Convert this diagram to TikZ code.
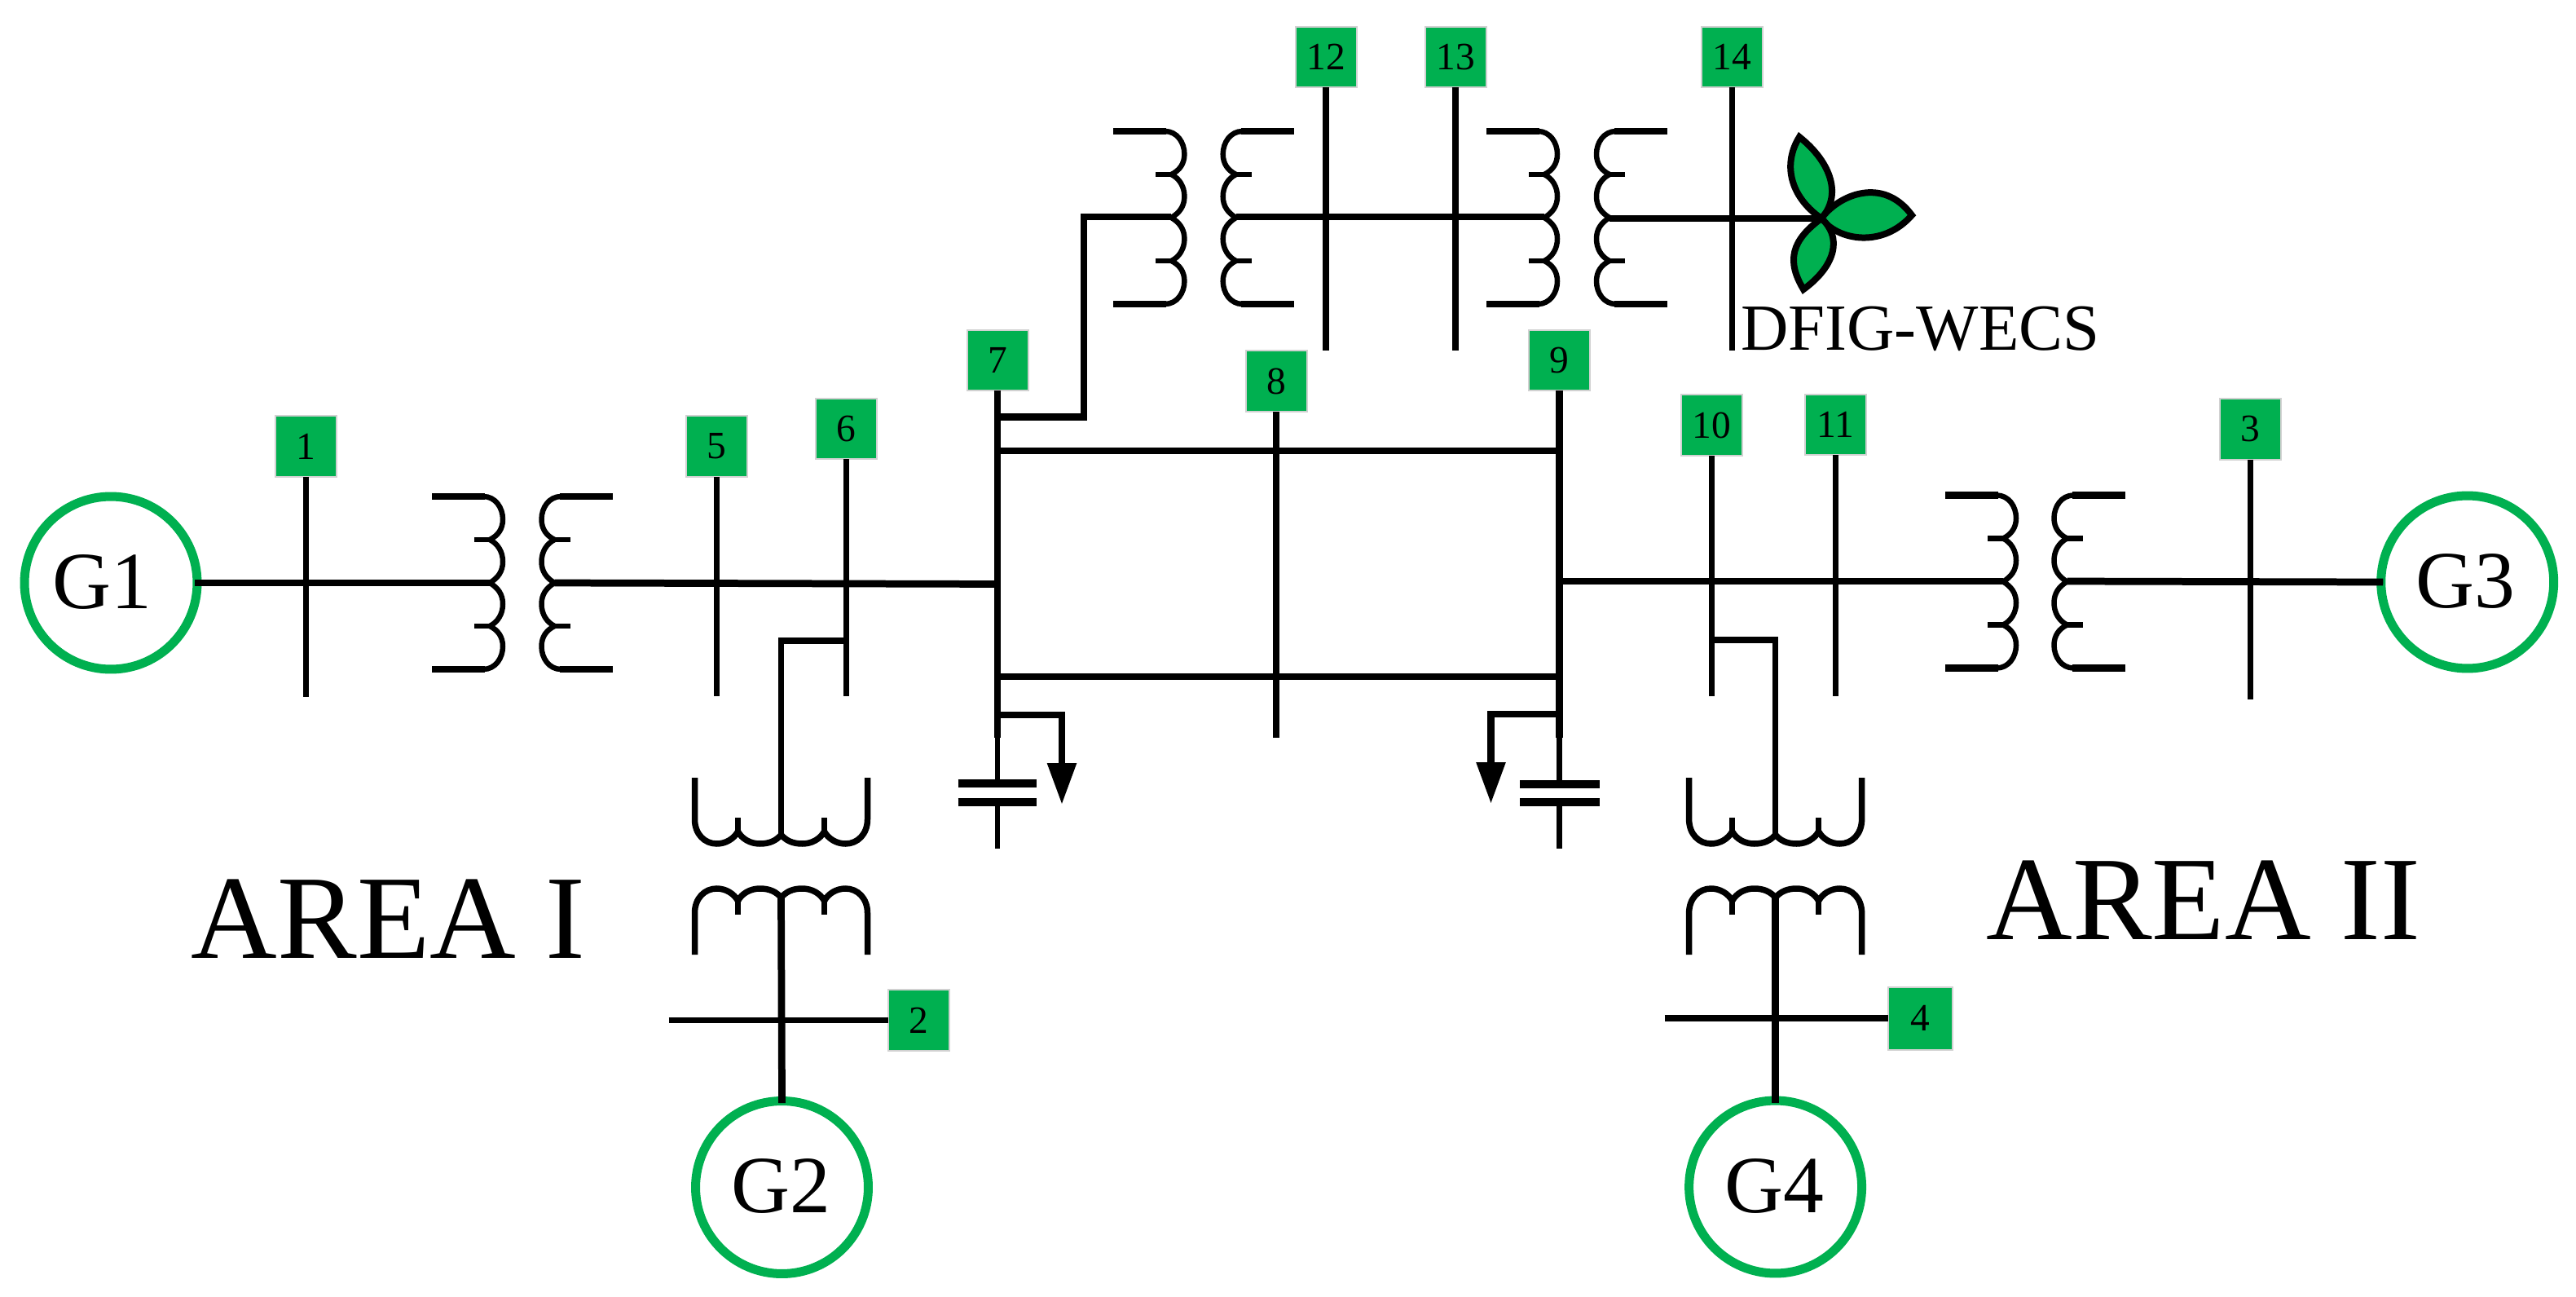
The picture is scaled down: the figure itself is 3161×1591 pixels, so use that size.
\documentclass[tikz,border=0pt]{standalone}
\usepackage{fontspec}
\setmainfont{Liberation Serif}
\usetikzlibrary{arrows.meta}
\definecolor{grn}{HTML}{00B050}
\newcommand{\pxfont}[1]{\fontsize{#1}{#1}\selectfont}
\tikzset{
  line/.style={draw=black,line width=0.15cm,line cap=butt,line join=miter},
  heavy/.style={draw=black,line width=0.175cm,line cap=butt,line join=miter},
  wire/.style={draw=black,line width=0.13cm},
  tag/.style={rectangle,fill=grn,draw=black!18,line width=0.04cm,minimum width=1.5cm,minimum height=1.5cm,inner sep=0pt,outer sep=0pt,font=\pxfont{27}},
  gen/.style={circle,draw=grn,line width=0.22cm,minimum size=4.24cm,inner sep=0pt},
  gentext/.style={anchor=base,inner sep=0pt,font=\pxfont{56.7}},
  area/.style={anchor=base west,inner sep=0pt,font=\pxfont{83.3}},
  plate/.style={draw=black,line width=0.2cm},
  load/.style={heavy,-{Triangle[length=1.02cm,width=0.68cm]}},
  blade/.style={fill=grn,draw=black,line width=0.16cm,line join=miter},
  hcoil/.pic={
    \draw[wire] (-24,-106) .. controls (-9,-106) and (0,-92) .. (0,-78)
      .. controls (0,-66) and (-6,-58) .. (-16,-53)
      .. controls (-6,-48) and (0,-38) .. (0,-26)
      .. controls (0,-14) and (-6,-6) .. (-16,0)
      .. controls (-6,6) and (0,14) .. (0,26)
      .. controls (0,38) and (-6,48) .. (-16,53)
      .. controls (-6,58) and (0,66) .. (0,78)
      .. controls (0,92) and (-9,106) .. (-24,106);
    \draw[heavy] (-87,-106) -- (-22,-106);
    \draw[heavy] (-87,106) -- (-22,106);
    \draw[wire] (-35,-53) -- (-15,-53);
    \draw[wire] (-35,53) -- (-15,53);
  },
  vcoil/.pic={
    \draw[line] (-106,-81) -- (-106,-30)
      .. controls (-106,-12) and (-94,0) .. (-79,0)
      .. controls (-68,0) and (-58,-6) .. (-53,-15)
      .. controls (-48,-6) and (-38,0) .. (-26,0)
      .. controls (-14,0) and (-6,-4) .. (0,-11)
      .. controls (6,-4) and (14,0) .. (26,0)
      .. controls (38,0) and (48,-6) .. (53,-15)
      .. controls (58,-6) and (68,0) .. (79,0)
      .. controls (94,0) and (106,-12) .. (106,-30)
      -- (106,-81);
    \draw[line] (-53,-32) -- (-53,-12);
    \draw[line] (53,-32) -- (53,-12);
  }
}
\begin{document}
\begin{tikzpicture}[x=0.02cm,y=-0.02cm]
\useasboundingbox (0,0) rectangle (3161,1591);

% generators
\node[gen] (G1) at (136,715) {};
\node[gen] (G2) at (959.5,1456.5) {};
\node[gen] (G3) at (3027.7,714) {};
\node[gen] (G4) at (2178.6,1456) {};
\node[gentext] (G1t) at (125,746) {G1};
\node[gentext] (G2t) at (958,1487) {G2};
\node[gentext] (G3t) at (3025.5,745) {G3};
\node[gentext] (G4t) at (2177.7,1487.5) {G4};

% bus labels
\node[tag] (L1) at (375.5,547.5) {1};
\node[tag] (L5) at (879.5,547.5) {5};
\node[tag] (L6) at (1038.5,526) {6};
\node[tag] (L7) at (1224,442) {7};
\node[tag] (L8) at (1566,467.5) {8};
\node[tag] (L9) at (1913.5,442) {9};
\node[tag] (L10) at (2100.5,521.7) {10};
\node[tag] (L11) at (2252.5,521) {11};
\node[tag] (L3) at (2761.5,526.5) {3};
\node[tag] (L12) at (1627,70) {12};
\node[tag] (L13) at (1786,70) {13};
\node[tag] (L14) at (2125.5,70) {14};
\node[tag] (L2) at (1127,1251.5) {2};
\node[tag,minimum width=1.58cm,minimum height=1.54cm] (L4) at (2356.7,1249) {4};

% free ends
\coordinate (e1) at (375.5,855);
\coordinate (e5) at (879.5,854);
\coordinate (e6) at (1038.5,854);
\coordinate (e7) at (1224,905);
\coordinate (e8) at (1566,905);
\coordinate (e9) at (1913.5,905);
\coordinate (e10) at (2100.5,854);
\coordinate (e11) at (2252.5,854);
\coordinate (e3) at (2761.5,858);
\coordinate (e12) at (1627,430);
\coordinate (e13) at (1786,430);
\coordinate (e14) at (2125.5,430);
\coordinate (e2) at (820.5,1251.5);
\coordinate (e4) at (2042.5,1249);
\coordinate (hub) at (2235,268);

% transformer winding tips
\coordinate (T1a) at (601,715);
\coordinate (T1b) at (680.5,715);
\coordinate (T3a) at (2458,713);
\coordinate (T3b) at (2536.5,713);
\coordinate (TAa) at (1437.4,266);
\coordinate (TAb) at (1516.7,266);
\coordinate (TBa) at (1895,266);
\coordinate (TBb) at (1975,268);
\coordinate (T2a) at (958.5,1024);
\coordinate (T2b) at (958.5,1101);
\coordinate (T4a) at (2178.6,1024);
\coordinate (T4b) at (2178.6,1101);

% junctions
\coordinate (j7m) at (1224,716.5);
\coordinate (j9m) at (1913.5,713);
\coordinate (j7t) at (1224,553);
\coordinate (j9t) at (1913.5,553);
\coordinate (j7b) at (1224,830);
\coordinate (j9b) at (1913.5,830);
\coordinate (j7u) at (1224,511.5);
\coordinate (c1) at (1330,511.5);
\coordinate (c2) at (1330,266);
\coordinate (j6) at (1038.5,786);
\coordinate (c6) at (958.5,786);
\coordinate (j10) at (2100.5,785);
\coordinate (c10) at (2178.6,785);

% transformers
\pic at (617,715) {hcoil};
\pic[xscale=-1] at (664.5,715) {hcoil};
\pic at (2474,713.5) {hcoil};
\pic[xscale=-1] at (2520.5,713.5) {hcoil};
\pic at (1453.4,267) {hcoil};
\pic[xscale=-1] at (1500.7,267) {hcoil};
\pic at (1911,267) {hcoil};
\pic[xscale=-1] at (1959,267) {hcoil};
\pic at (958.5,1035) {vcoil};
\pic[yscale=-1] at (958.5,1090) {vcoil};
\pic at (2178.6,1035) {vcoil};
\pic[yscale=-1] at (2178.6,1090) {vcoil};

% vertical buses
\foreach \n in {1,5,6,8,10,11,3,12,13,14}{
  \draw[line] (L\n.south) -- (e\n);
}
\draw[heavy] (L7.south) -- (e7);
\draw[heavy] (L9.south) -- (e9);

% main lines
\draw[heavy,shorten <=-0.16cm] (G1.east) -- (T1a);
\draw[heavy] (T1b) -- (j7m);
\draw[heavy] (j9m) -- (T3a);
\draw[heavy,shorten >=-0.16cm] (T3b) -- (G3.west);
\draw[line] (j7t) -- (j9t);
\draw[line] (j7b) -- (j9b);
\draw[heavy] (j7u) -- (c1) -- (c2) -- (TAa);
\draw[heavy] (TAb) -- (TBa);
\draw[heavy] (TBb) -- (hub);
\draw[line] (j6) -- (c6) -- (T2a);
\draw[line] (j10) -- (c10) -- (T4a);
\draw[heavy,shorten >=-0.16cm] (T2b) -- (G2.north);
\draw[heavy,shorten >=-0.16cm] (T4b) -- (G4.north);
\draw[line] (e2) -- (L2.west);
\draw[line] (e4) -- (L4.west);

% loads
\coordinate (l7) at (1224,877);
\coordinate (l7c) at (1303,877);
\coordinate (l7e) at (1303,987);
\coordinate (l9) at (1913.5,876);
\coordinate (l9c) at (1829.5,876);
\coordinate (l9e) at (1829.5,986);
\draw[load] (l7) -- (l7c) -- (l7e);
\draw[load] (l9) -- (l9c) -- (l9e);

% capacitors
\coordinate (p7a) at (1224,961);
\coordinate (p7b) at (1224,984);
\coordinate (g7) at (1224,1041);
\coordinate (p9a) at (1913.5,962);
\coordinate (p9b) at (1913.5,984);
\coordinate (g9) at (1913.5,1041);
\draw[wire] (e7) -- (p7a);
\draw[wire] (p7b) -- (g7);
\draw[wire] (e9) -- (p9a);
\draw[wire] (p9b) -- (g9);
\draw[plate] (1175.5,961) -- (1272,961);
\draw[plate] (1175.5,984) -- (1272,984);
\draw[plate] (1865,962) -- (1962.5,962);
\draw[plate] (1865,984) -- (1962.5,984);

% wind turbine
\draw[blade] (hub) .. controls (2195,240) and (2188,200) .. (2208,168)
  .. controls (2248,200) and (2260,240) .. (hub);
\draw[blade] (hub) .. controls (2255,240) and (2310,215) .. (2346,264)
  .. controls (2310,305) and (2255,295) .. (hub);
\draw[blade] (hub) .. controls (2198,295) and (2192,320) .. (2213,355)
  .. controls (2254,325) and (2260,290) .. (hub);

% texts
\node[anchor=base west,inner sep=0pt,font=\pxfont{46}] (wecs) at (2136,430) {DFIG-WECS};
\node[area] (a1) at (234.4,1175) {AREA I};
\node[area] (a2) at (2437,1152.7) {AREA II};
\end{tikzpicture}
\end{document}
